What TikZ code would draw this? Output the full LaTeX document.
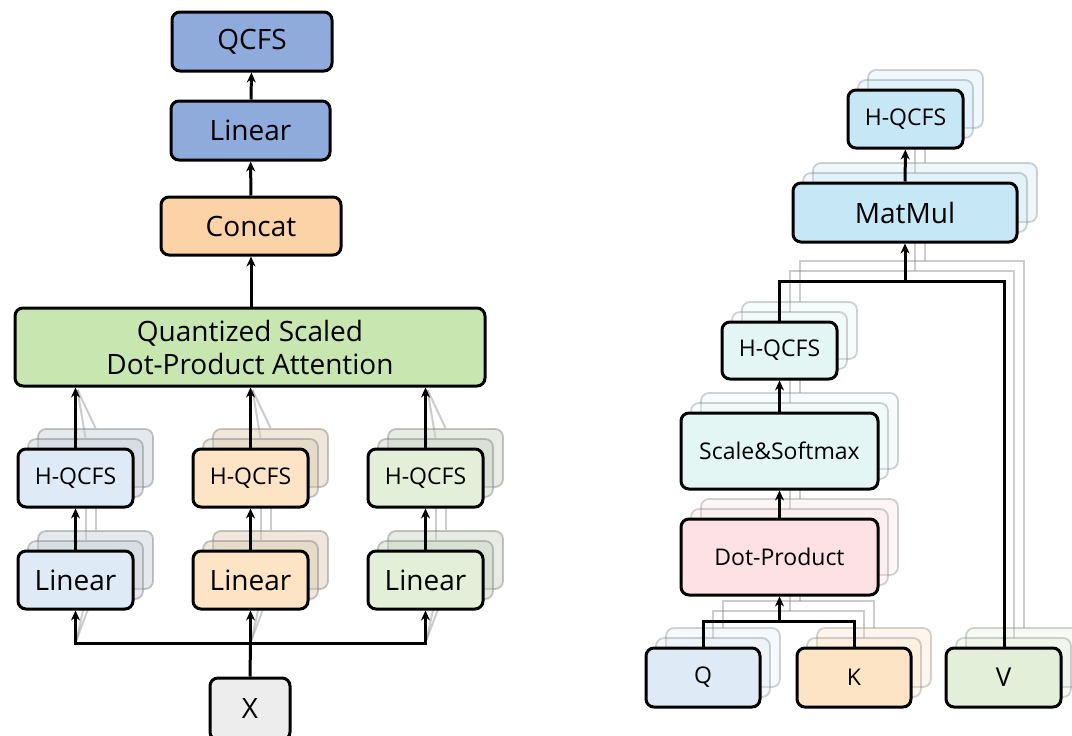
\documentclass[tikz,border=0pt]{standalone}
\usepackage{fontspec}
\setmainfont{Open Sans}
\usetikzlibrary{arrows.meta}
\definecolor{cTop}{HTML}{8FABDC}
\definecolor{cConcat}{HTML}{FCD3A6}
\definecolor{cAtt}{HTML}{C8E6AF}
\definecolor{cBlue}{HTML}{DEEAF6}
\definecolor{cOrange}{HTML}{FCE4C4}
\definecolor{cGreen}{HTML}{E3EFD9}
\definecolor{cX}{HTML}{EDEDED}
\definecolor{cSky}{HTML}{C6E7F6}
\definecolor{cCyan}{HTML}{E3F6F4}
\definecolor{cPink}{HTML}{FDE1E5}
\tikzset{
  box/.style={draw=black, line width=3pt, rounded corners=8pt, inner sep=0pt, align=center},
  shboxL/.style={draw=gray, draw opacity=0.45, line width=1.8pt, rounded corners=8pt, inner sep=0pt, fill opacity=0.45},
  shboxR/.style={draw=gray, draw opacity=0.35, line width=1.8pt, rounded corners=8pt, inner sep=0pt, fill opacity=0.3},
  arr/.style={line width=3pt, -{Stealth[length=10pt,width=9pt]}},
  wire/.style={line width=3pt},
  ghost/.style={line width=2pt, draw=gray, draw opacity=0.4},
  fbig/.style={font=\fontsize{28}{33}\selectfont},
  fv/.style={font=\fontsize{26}{30}\selectfont},
  fmid/.style={font=\fontsize{23}{27}\selectfont},
}
% #1 name, #2 x, #3 y, #4 w, #5 h, #6 shadow fill, #7 main fill, #8 font style, #9 text
\newcommand{\stkL}[9]{%
  \node[shboxL, fill=#6, minimum width=#4, minimum height=#5] (#1-s2) at (#2+20,#3-20) {};
  \node[shboxL, fill=#6, minimum width=#4, minimum height=#5] (#1-s1) at (#2+10,#3-10) {};
  \node[box, fill=#7, minimum width=#4, minimum height=#5, #8] (#1) at (#2,#3) {#9};}
\newcommand{\stkR}[9]{%
  \node[shboxR, fill=#6, minimum width=#4, minimum height=#5] (#1-s2) at (#2+20,#3-20) {};
  \node[shboxR, fill=#6, minimum width=#4, minimum height=#5] (#1-s1) at (#2+10,#3-10) {};
  \node[box, fill=#7, minimum width=#4, minimum height=#5, #8] (#1) at (#2,#3) {#9};}
\begin{document}
\begin{tikzpicture}[x=1pt,y=-1pt]
\useasboundingbox (0,0) rectangle (1072,736);
\fill[white] (0,0) rectangle (1072,736);

% ---------- ghost wires (left) ----------
\foreach \cx in {75.5,250.5,425.5}{
  \draw[ghost] (\cx+10,540) -- (\cx+10,497);
  \draw[ghost] (\cx+20,530) -- (\cx+20,487);
  \draw[ghost] (\cx+10,438) -- (\cx+2,390);
  \draw[ghost] (\cx+20,428) -- (\cx+2,390);
  \draw[ghost] (\cx+1,640) -- (\cx+10,599);
  \draw[ghost] (\cx+1,640) -- (\cx+20,589);
}
% ---------- ghost wires (right) ----------
\foreach \d in {10,20}{
  \draw[ghost] (703+\d,638-\d+10) -- (703+\d,621-\d) -- (854+\d,621-\d) -- (854+\d,638-\d+10);
  \draw[ghost] (779.5+\d,621-\d) -- (779.5+\d,585);
  \draw[ghost] (779.5+\d,519-\d) -- (779.5+\d,479);
  \draw[ghost] (779.5+\d,413-\d) -- (779.5+\d,369);
  \draw[ghost] (779.5+\d,322-\d) -- (779.5+\d,281-\d) -- (1004+\d,281-\d) -- (1004+\d,648-\d);
  \draw[ghost] (905+\d,281-\d) -- (905+\d,232);
  \draw[ghost] (905+\d,183-\d) -- (905+\d,138);
}

% ---------- left column ----------
\node[box, fill=cTop, minimum width=160, minimum height=59, fbig] (qcfs) at (252,41.5) {QCFS};
\node[box, fill=cTop, minimum width=159, minimum height=59, fbig] (lin) at (250.5,130.5) {Linear};
\node[box, fill=cConcat, minimum width=180, minimum height=58, fbig] (cat) at (251,226) {Concat};
\node[box, fill=cAtt, minimum width=470, minimum height=78, fbig] (att) at (250,347) {Quantized Scaled\\Dot-Product Attention};

\stkL{hb}{75.5}{478}{115}{58}{cBlue!75!gray}{cBlue}{fmid}{H-QCFS}
\stkL{ho}{250.5}{478}{115}{58}{cOrange!75!gray}{cOrange}{fmid}{H-QCFS}
\stkL{hg}{425.5}{478}{115}{58}{cGreen!75!gray}{cGreen}{fmid}{H-QCFS}
\stkL{lb}{75.5}{580}{115}{58}{cBlue!75!gray}{cBlue}{fbig}{Linear}
\stkL{lo}{250.5}{580}{115}{58}{cOrange!75!gray}{cOrange}{fbig}{Linear}
\stkL{lg}{425.5}{580}{115}{58}{cGreen!75!gray}{cGreen}{fbig}{Linear}

\node[box, fill=cX, minimum width=80, minimum height=62, fbig] (x) at (250,709) {X};
\coordinate (busL) at (75.5,643);
\coordinate (busM) at (250.5,643);
\coordinate (busR) at (425.5,643);

\draw[wire] (x.north) -- (busM);
\draw[arr] (busL) -- (lb.south);
\draw[arr] (busM) -- (lo.south);
\draw[arr] (busR) -- (lg.south);
\draw[wire, line cap=rect] (busL) -- (busR);
\draw[arr] (lb) -- (hb);
\draw[arr] (lo) -- (ho);
\draw[arr] (lg) -- (hg);
\draw[arr] (hb.north) -- (hb.north |- att.south);
\draw[arr] (ho.north) -- (ho.north |- att.south);
\draw[arr] (hg.north) -- (hg.north |- att.south);
\draw[arr] (att.north -| cat.south) -- (cat.south);
\draw[arr] (cat) -- (lin);
\draw[arr] (lin) -- (qcfs);

% ---------- right column ----------
\stkR{q}{703}{677.5}{114}{59}{cBlue}{cBlue}{fmid}{Q}
\stkR{k}{854}{677.5}{114}{59}{cOrange}{cOrange}{fmid}{K}
\stkR{v}{1003.5}{677.5}{115}{59}{cGreen}{cGreen}{fv}{V}
\stkR{dp}{779.5}{557}{197}{76}{cPink}{cPink}{fmid}{Dot-Product}
\stkR{ss}{779.5}{451}{197}{76}{cCyan}{cCyan}{fmid}{Scale\&Softmax}
\stkR{hm}{779.5}{350.5}{115}{57}{cCyan}{cCyan}{fmid}{H-QCFS}
\stkR{mm}{905}{212.5}{224}{59}{cSky}{cSky}{fbig}{MatMul}
\stkR{ht}{905.5}{119}{115}{58}{cSky}{cSky}{fmid}{H-QCFS}

\coordinate (qkbus) at (779.5,621);
\coordinate (vbusR) at (1004,281);
\coordinate (vbusL) at (779.5,281);
\coordinate (vbusM) at (905,281);

\draw[wire] (q.north) |- (qkbus) -| (k.north);
\draw[arr] (qkbus) -- (dp.south);
\draw[arr] (dp) -- (ss);
\draw[arr] (ss) -- (hm);
\draw[wire] (hm.north) -- (vbusL) -- (vbusR) -- (v.north -| vbusR);
\draw[arr] (vbusM) -- (mm.south);
\draw[arr] (mm) -- (ht);
\end{tikzpicture}
\end{document}
